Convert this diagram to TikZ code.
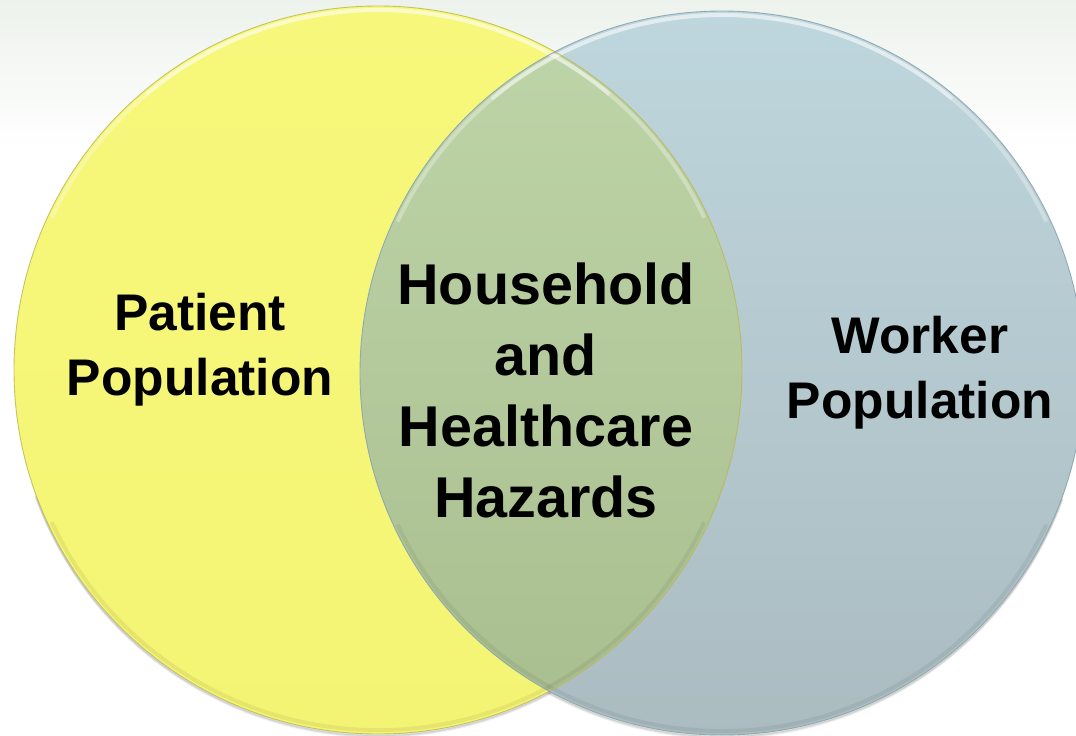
\documentclass[tikz,border=0pt]{standalone}
\usepackage{fontspec}
\setmainfont{Liberation Sans}
\begin{document}
\begin{tikzpicture}[x=1bp,y=-1bp]
\definecolor{bgtop}{HTML}{EDF2EC}
\definecolor{yeltop}{HTML}{F7F77B}
\definecolor{yelbot}{HTML}{F4F474}
\definecolor{blutop}{HTML}{BED6DD}
\definecolor{blubot}{HTML}{ABBCC1}
\definecolor{grntop}{HTML}{BED5A9}
\definecolor{grnbot}{HTML}{A9BE8E}
\definecolor{yeledge}{HTML}{B8B850}
\definecolor{bluedge}{HTML}{8AA6B0}
\tikzset{
  sidelabel/.style={font=\fontsize{51.5bp}{65bp}\selectfont\bfseries, align=center, anchor=base, inner sep=0pt},
  midlabel/.style={font=\fontsize{57.5bp}{71bp}\selectfont\bfseries, align=center, anchor=base, inner sep=0pt},
  glow/.style={line width=4bp, white}
}
\useasboundingbox (0,0) rectangle (1076,736);
\fill[white] (0,0) rectangle (1076,736);
\shade[top color=bgtop, bottom color=white] (0,0) rectangle (1076,150);
\coordinate (L) at (378,370);
\coordinate (R) at (722,373);
% soft outer shadows
\foreach \o/\a in {3/0.05,2/0.08,1/0.10}{
  \draw[black, opacity=\a, line width=2bp] ([yshift=-\o bp]L) ++(200:364bp) arc[start angle=200, end angle=340, radius=364bp];
  \draw[black, opacity=\a, line width=2bp] ([yshift=-\o bp]R) ++(200:362bp) arc[start angle=200, end angle=340, radius=362bp];
}
% fills
\shade[top color=yeltop, bottom color=yelbot] (L) circle[radius=364bp];
\shade[top color=blutop, bottom color=blubot] (R) circle[radius=362bp];
\begin{scope}
  \clip (L) circle[radius=364bp];
  \shade[top color=grntop, bottom color=grnbot] (R) circle[radius=362bp];
\end{scope}
% inner highlights at top
\draw[glow, opacity=0.3] (L) ++(25:360bp) arc[start angle=25, end angle=155, radius=360bp];
\draw[glow, opacity=0.4] (L) ++(50:360bp) arc[start angle=50, end angle=130, radius=360bp];
\draw[glow, opacity=0.3] (R) ++(25:358bp) arc[start angle=25, end angle=155, radius=358bp];
\draw[glow, opacity=0.4] (R) ++(50:358bp) arc[start angle=50, end angle=130, radius=358bp];
% inner darker band at bottom
\draw[black, opacity=0.06, line width=4bp] (L) ++(205:360bp) arc[start angle=205, end angle=335, radius=360bp];
\draw[black, opacity=0.06, line width=4bp] (R) ++(205:358bp) arc[start angle=205, end angle=335, radius=358bp];
% outlines
\draw[yeledge, line width=0.9bp, opacity=0.8] (L) circle[radius=364bp];
\draw[bluedge, line width=0.9bp, opacity=0.9] (R) circle[radius=362bp];
% labels (anchor=base sits on the last line's baseline)
\node[sidelabel] (patient) at (200,395) {Patient\\Population};
\node[sidelabel] (worker) at (920,418) {Worker\\Population};
\node[midlabel] (hazards) at (546,517) {Household\\and\\Healthcare\\Hazards};
\end{tikzpicture}
\end{document}
